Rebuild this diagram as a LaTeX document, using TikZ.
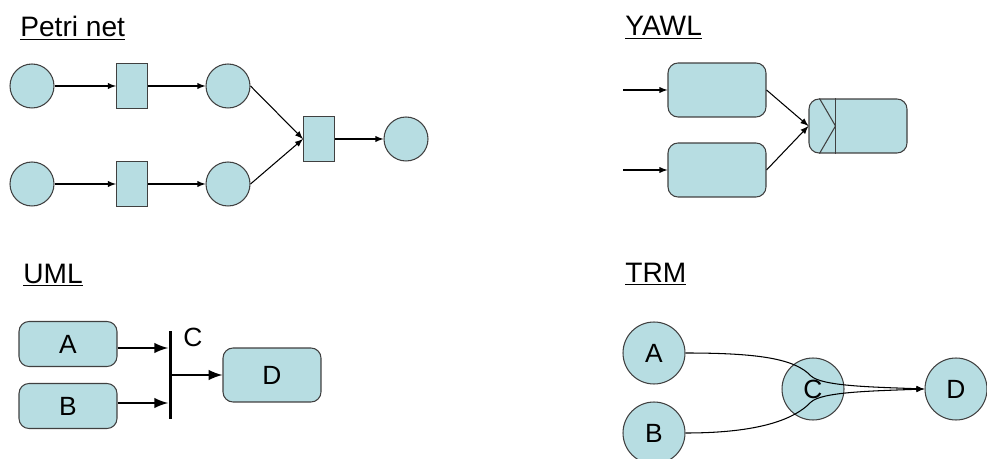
\documentclass[tikz,border=0pt]{standalone}
\usepackage{fontspec}
\setmainfont{Liberation Sans}
\usetikzlibrary{shapes,arrows,positioning,calc}
\definecolor{boxblue}{RGB}{183,221,226}
\definecolor{edgegray}{RGB}{64,64,64}

\begin{document}
\begin{tikzpicture}[
    x=0.02cm, y=-0.02cm,
    heading/.style={anchor=base west, inner sep=0pt, font=\fontsize{16}{19}\selectfont},
    place/.style={circle, draw=edgegray, fill=boxblue, line width=0.6pt,
                  minimum size=0.88cm, inner sep=0pt},
    trans/.style={rectangle, draw=edgegray, fill=boxblue, line width=0.6pt,
                  minimum width=0.62cm, minimum height=0.9cm, inner sep=0pt},
    task/.style={rectangle, rounded corners=0.2cm, draw=edgegray, fill=boxblue, line width=0.6pt,
                 minimum width=1.96cm, minimum height=1.08cm, inner sep=0pt,
                 font=\fontsize{15}{18}\selectfont},
    act/.style={task, minimum height=0.9cm},
    circnode/.style={circle, draw=edgegray, fill=boxblue, line width=0.6pt,
                     minimum size=1.24cm, inner sep=0pt, font=\fontsize{15}{18}\selectfont},
    flow/.style={->, >=latex, line width=0.6pt},
    thickflow/.style={->, >=latex, line width=1.7pt},
]
\useasboundingbox (0,0) rectangle (987,459);

% Petri net
\node[heading] (pntitle) at (20,37) {\underline{Petri net}};

\node[place] (p1) at (32,86) {};
\node[trans] (t1) at (132,86) {};
\node[place] (p2) at (228,86) {};
\node[place] (p3) at (32,184) {};
\node[trans] (t2) at (132,184) {};
\node[place] (p4) at (228,184) {};
\node[trans] (t3) at (319,139) {};
\node[place] (p5) at (406,139) {};

\draw[flow] (p1) -- (t1);
\draw[flow] (t1) -- (p2);
\draw[flow] (p3) -- (t2);
\draw[flow] (t2) -- (p4);
\draw[flow] (p2.east) -- (t3.west);
\draw[flow] (p4.east) -- (t3.west);
\draw[flow] (t3) -- (p5);

% YAWL
\node[heading] (yawltitle) at (625,36) {\underline{YAWL}};

\coordinate (in1) at (623,90);
\coordinate (in2) at (623,170);
\node[task] (y1) at (717,90) {};
\node[task] (y2) at (717,170) {};
\node[task] (join) at (858,126) {};
\draw[edgegray, line width=0.6pt] ($(join.north west)+(27,0)$) -- ($(join.south west)+(27,0)$);
\draw[edgegray, line width=0.6pt] ($(join.north west)+(11,0)$) -- ($(join.west)+(27,0)$)
    -- ($(join.south west)+(11,0)$);

\draw[flow] (in1) -- (y1);
\draw[flow] (in2) -- (y2);
\draw[flow] (y1.east) -- (join.west);
\draw[flow] (y2.east) -- (join.west);

% UML
\node[heading] (umltitle) at (23,283) {\underline{UML}};

\node[act] (a) at (68,344) {A};
\node[act] (b) at (68,406) {B};
\node[fill=black, minimum width=0.06cm, minimum height=1.78cm, inner sep=0pt] (bar) at (170,375) {};
\node[font=\fontsize{15}{18}\selectfont] (c) at (193,337) {C};
\node[task] (d) at (272,375) {D};

\draw[thickflow] ([yshift=-0.08cm]a.east) -- ([yshift=-0.08cm]a.east -| bar.west);
\draw[thickflow] ([yshift=0.06cm]b.east) -- ([yshift=0.06cm]b.east -| bar.west);
\draw[thickflow] (bar.east) -- (d.west);

% TRM
\node[heading] (trmtitle) at (625,282) {\underline{TRM}};

\node[circnode] (ta) at (654,353) {A};
\node[circnode] (tb) at (654,433) {B};
\node[circnode] (tc) at (813,389) {C};
\node[circnode] (td) at (956,389) {D};

\coordinate (ka) at (811,376);
\coordinate (kb) at (811,402);
\draw[flow] (ta.east) .. controls (760,353) and (795,359) .. (ka)
    .. controls (822,386) and (870,387) .. (td.west);
\draw[flow] (tb.east) .. controls (760,433) and (795,419) .. (kb)
    .. controls (822,392) and (870,391) .. (td.west);

\end{tikzpicture}
\end{document}
